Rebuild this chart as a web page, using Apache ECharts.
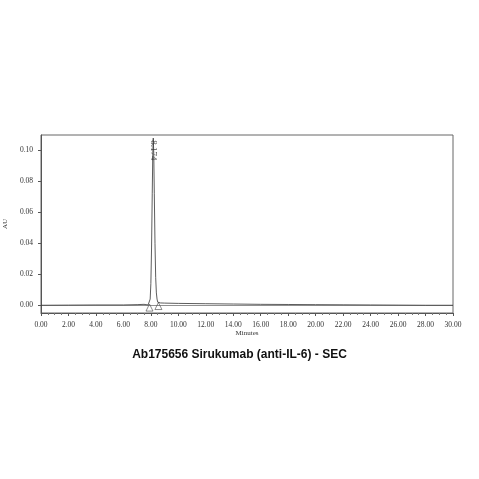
<!DOCTYPE html><html><head><meta charset="utf-8"><script src="https://cdn.jsdelivr.net/npm/echarts@6/dist/echarts.min.js"></script>
<style>body{margin:0;background:#fff}#c{width:479px;height:479px}</style></head><body><div id="c"></div><script>
const minutes=[0,2,4,6,7,7.5,7.8,7.9,7.95,8.0,8.05,8.1,8.14,8.174,8.21,8.25,8.3,8.35,8.4,8.45,8.5,8.55,8.7,9,10,12,14,16,18,20,22,24,26,28,30];
const au=[0,0.0001,0.0002,0.0002,0.0004,0.0006,0.0002,0.001,0.004,0.014,0.037,0.072,0.098,0.108,0.098,0.072,0.040,0.018,0.008,0.004,0.002,0.0012,0.0015,0.0014,0.0012,0.001,0.0008,0.0006,0.0005,0.0004,0.0003,0.0002,0.0001,0,0];
const xTicks=[0,2,4,6,8,10,12,14,16,18,20,22,24,26,28,30];
const yTicks=[0,0.02,0.04,0.06,0.08,0.10];
const peakTime=[8.174], peakLabel=["8.174"];
const markers=[[7.9,-0.0015],[8.55,-0.0005]];
const serif='"Liberation Serif","DejaVu Serif",serif';
const ax={onZero:false,lineStyle:{color:'#555'}};
echarts.init(document.getElementById('c')).setOption({
animation:false,
title:{text:'Ab175656 Sirukumab (anti-IL-6) - SEC',left:'center',top:344,textStyle:{fontFamily:'"Liberation Sans",Arial,sans-serif',fontSize:12,fontWeight:'bold',color:'#111'}},
grid:{left:41,right:26,top:135,bottom:166,containLabel:false,outerBoundsMode:'none',show:true,borderColor:'#666',borderWidth:1},
xAxis:{type:'value',min:0,max:30,interval:2,name:'Minutes',nameLocation:'middle',nameGap:16,nameTextStyle:{fontFamily:serif,fontSize:7,color:'#333'},
axisLine:ax,axisTick:{length:3,lineStyle:{color:'#555'}},minorTick:{show:true,splitNumber:4,length:2,lineStyle:{color:'#777'}},splitLine:{show:false},
axisLabel:{fontFamily:serif,fontSize:7.5,color:'#333',formatter:v=>v.toFixed(2)}},
yAxis:{type:'value',min:-0.005,max:0.11,name:'AU',nameLocation:'middle',nameGap:24,nameTextStyle:{fontFamily:serif,fontSize:7,color:'#333'},
axisLine:ax,axisTick:{length:3,customValues:yTicks,lineStyle:{color:'#555'}},splitLine:{show:false},
axisLabel:{fontFamily:serif,fontSize:7.5,color:'#333',customValues:yTicks,formatter:v=>v.toFixed(2)}},
series:[
{type:'line',data:minutes.map((m,i)=>[m,au[i]]),symbol:'none',lineStyle:{color:'#333',width:0.8},
 markLine:{silent:true,symbol:'none',label:{show:false},lineStyle:{color:'#444',width:0.6,type:'solid'},data:[{yAxis:0}]}},
{type:'scatter',data:peakTime.map((t,i)=>({value:[t,0.1],name:peakLabel[i]})),symbolSize:0,
 label:{show:true,formatter:p=>p.name,rotate:-90,fontFamily:serif,fontSize:9,color:'#222',position:'inside'}},
{type:'scatter',data:markers,symbol:'triangle',symbolSize:7,itemStyle:{color:'#fff',borderColor:'#333',borderWidth:0.7}}
]});
</script></body></html>
